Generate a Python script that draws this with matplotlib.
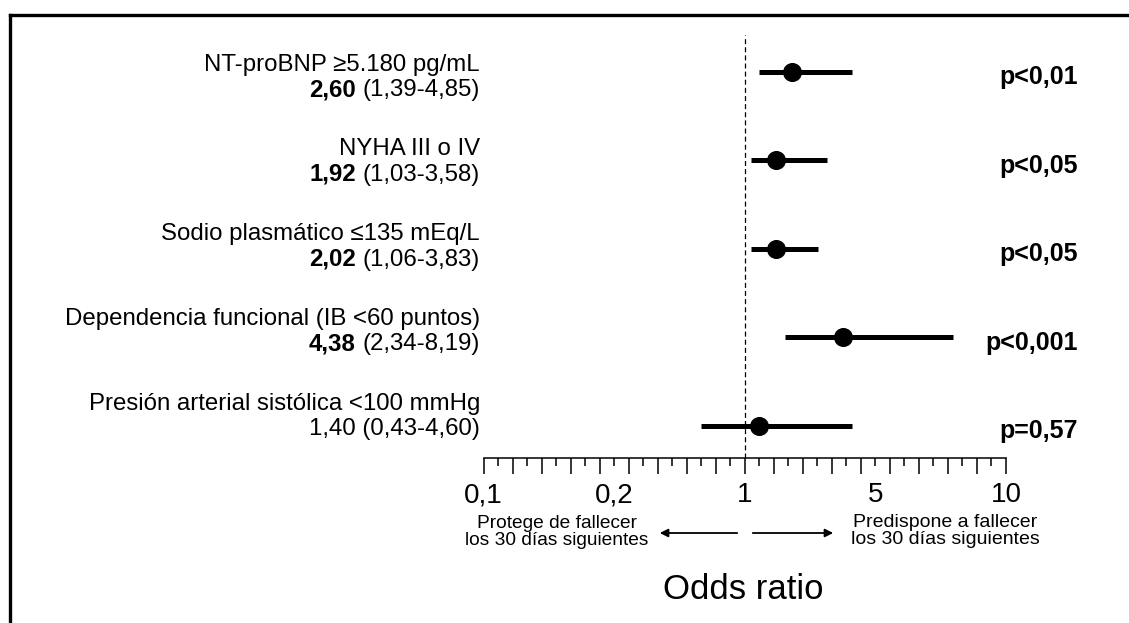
import numpy as np
import matplotlib
matplotlib.use("Agg")
import matplotlib.pyplot as plt
from matplotlib.ticker import FixedLocator, NullFormatter
from matplotlib import transforms
from matplotlib.lines import Line2D
from matplotlib.patches import FancyArrowPatch

plt.rcParams['font.family'] = ['Liberation Sans', 'DejaVu Sans']

# ---------------- data ----------------
variables = ["NT-proBNP ≥5.180 pg/mL", "NYHA III o IV", "Sodio plasmático ≤135 mEq/L",
             "Dependencia funcional (IB <60 puntos)", "Presión arterial sistólica <100 mmHg"]
or_text = ["2,60", "1,92", "2,02", "4,38", "1,40"]
ci_text = ["(1,39-4,85)", "(1,03-3,58)", "(1,06-3,83)", "(2,34-8,19)", "(0,43-4,60)"]
significant = [True, True, True, True, False]
p_labels = ["p<0,01", "p<0,05", "p<0,05", "p<0,001", "p=0,57"]
# values as drawn on the chart's axis
or_est = [2.45, 1.96, 1.96, 4.01, 1.44]
ci_low = [1.44, 1.20, 1.20, 2.23, 0.73]
ci_high = [4.29, 3.52, 3.25, 7.98, 4.29]
tick_values = [0.1, 0.2, 1, 5, 10]
tick_labels = ["0,1", "0,2", "1", "5", "10"]

W, H = 1129, 623
def fx(px): return px / W
def fy(py): return 1 - py / H

# piecewise scale: labelled values equally spaced
seg = np.arange(len(tick_values), dtype=float)
def fwd(x): return np.interp(x, tick_values, seg)
def inv(u): return np.interp(u, seg, tick_values)

fig = plt.figure(figsize=(W / 100, H / 100), dpi=100)
ax = fig.add_axes([fx(483.5), fy(458), fx(1006) - fx(483.5), fy(35) - fy(458)])
ax.set_xscale('function', functions=(fwd, inv))
ax.set_xlim(tick_values[0], tick_values[-1])
rows = np.arange(len(variables))
ax.set_ylim(4.362, -0.418)

ax.axvline(1, color='k', lw=0.9, ls=(0, (4, 2.5)), zorder=1)
ax.hlines(rows, ci_low, ci_high, color='k', lw=3.6, capstyle='butt', zorder=2)
ax.plot(or_est, rows, 'o', color='k', ms=12.7, zorder=3)

for s in ['top', 'left', 'right']:
    ax.spines[s].set_visible(False)
ax.spines['bottom'].set_linewidth(1.1)
ax.set_yticks([])
ax.patch.set_visible(False)

upos = np.linspace(seg[0], seg[-1], 37)
ax.xaxis.set_major_locator(FixedLocator(inv(upos[::2])))
ax.xaxis.set_minor_locator(FixedLocator(inv(upos[1::2])))
ax.xaxis.set_major_formatter(NullFormatter())
ax.xaxis.set_minor_formatter(NullFormatter())
ax.tick_params(axis='x', which='major', length=11.5, width=1.1, direction='out')
ax.tick_params(axis='x', which='minor', length=5.5, width=1.1, direction='out')

ax2 = ax.twiny()
ax2.set_xscale('function', functions=(fwd, inv))
ax2.set_xlim(tick_values[0], tick_values[-1])
ax2.xaxis.set_ticks_position('bottom')
ax2.xaxis.set_label_position('bottom')
for s in ax2.spines.values():
    s.set_visible(False)
ax2.set_xticks(tick_values)
ax2.set_xticklabels(tick_labels)
ax2.xaxis.set_minor_locator(FixedLocator([]))
ax2.tick_params(axis='x', which='major', length=0, pad=17.5, labelsize=20)
ax2.patch.set_visible(False)

# left labels
fs_lab = 17.3
for i, name in enumerate(variables):
    y1 = 62 + i * 84.75
    y2 = y1 + 25.5
    fig.text(fx(480), fy(y1 + 8.7), name, ha='right', va='baseline', fontsize=fs_lab)
    if significant[i]:
        reg = fig.text(fx(480), fy(y2 + 8.7), ci_text[i], ha='right', va='baseline', fontsize=fs_lab)
        ax.annotate(or_text[i], xy=(0, 0), xycoords=reg, xytext=(-4.8, 0),
                    textcoords='offset points', ha='right', va='bottom',
                    fontsize=fs_lab, fontweight='bold', annotation_clip=False)
    else:
        fig.text(fx(480), fy(y2 + 8.7), or_text[i] + " " + ci_text[i], ha='right',
                 va='baseline', fontsize=fs_lab)

# p-values
blend = transforms.blended_transform_factory(ax.transAxes, ax.transData)
px_x = (1078 - 483.5) / (1006 - 483.5)
for i, p in enumerate(p_labels):
    ax.annotate(p, xy=(px_x, rows[i]), xycoords=blend, xytext=(0, -9.0),
                textcoords='offset points', ha='right', va='baseline',
                fontsize=18, fontweight='bold', annotation_clip=False)

# arrows and captions
ya = fy(533)
fig.add_artist(FancyArrowPatch((fx(740), ya), (fx(657), ya),
               transform=fig.transFigure, arrowstyle='-|>', mutation_scale=12,
               lw=1.3, color='k'))
fig.add_artist(FancyArrowPatch((fx(750), ya), (fx(836), ya),
               transform=fig.transFigure, arrowstyle='-|>', mutation_scale=12,
               lw=1.3, color='k'))
fig.text(fx(557), fy(532), "Protege de fallecer\nlos 30 días siguientes", ha='center',
         va='center', fontsize=13.8, linespacing=0.95, multialignment='center')
fig.text(fx(945), fy(531), "Predispone a fallecer\nlos 30 días siguientes", ha='center',
         va='center', fontsize=14, linespacing=0.95, multialignment='center')

fig.text(fx(743), fy(599), "Odds ratio", ha='center', va='baseline', fontsize=25)

# frame
lw_f = 2.4
fig.add_artist(Line2D([fx(9.5), 1.01], [fy(14.5), fy(14.5)], transform=fig.transFigure,
                      color='k', lw=lw_f, solid_capstyle='projecting'))
fig.add_artist(Line2D([fx(9.5), fx(9.5)], [fy(14.5), -0.01], transform=fig.transFigure,
                      color='k', lw=lw_f, solid_capstyle='projecting'))

fig.savefig("out.png", dpi=100)
